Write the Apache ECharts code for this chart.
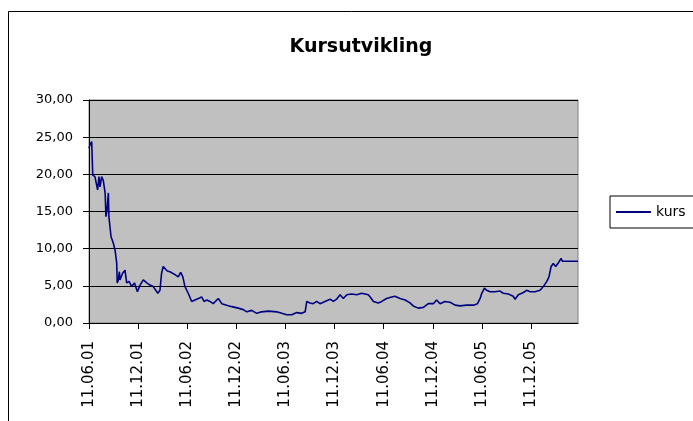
<!DOCTYPE html>
<html>
<head>
<meta charset="utf-8">
<script src="https://cdn.jsdelivr.net/npm/echarts@6/dist/echarts.min.js"></script>
<style>
html,body{margin:0;padding:0;background:#fff;}
#chart{width:693px;height:421px;}
</style>
</head>
<body>
<div id="chart"></div>
<script>
const startDate = '2001-06-11';
const endDate = '2006-06-04';
const tickLabels = ['11.06.01','11.12.01','11.06.02','11.12.02','11.06.03','11.12.03','11.06.04','11.12.04','11.06.05','11.12.05'];
const dates = [
'2001-06-11','2001-06-15','2001-06-21','2001-06-22','2001-06-25','2001-07-03','2001-07-10','2001-07-13','2001-07-18','2001-07-22',
'2001-07-28','2001-08-03','2001-08-10','2001-08-13','2001-08-17','2001-08-22','2001-08-24','2001-09-01','2001-09-09','2001-09-16',
'2001-09-22','2001-09-24','2001-09-28','2001-10-02','2001-10-04','2001-10-14','2001-10-23','2001-10-29','2001-11-07','2001-11-17',
'2001-11-27','2001-12-08','2001-12-18','2001-12-30','2002-01-12','2002-01-24','2002-02-05','2002-02-22','2002-03-02','2002-03-08',
'2002-03-14','2002-03-21','2002-03-29','2002-04-08','2002-04-27','2002-05-09','2002-05-18','2002-05-26','2002-06-03','2002-06-15',
'2002-06-28','2002-07-10','2002-07-23','2002-08-04','2002-08-13','2002-08-23','2002-09-04','2002-09-16','2002-10-05','2002-10-18',
'2002-11-05','2002-11-24','2002-12-18','2003-01-06','2003-01-19','2003-02-06','2003-02-25','2003-03-15','2003-04-09','2003-04-15',
'2003-05-10','2003-05-29','2003-06-16','2003-07-05','2003-07-24','2003-08-11','2003-08-24','2003-08-30','2003-09-11','2003-09-23',
'2003-10-06','2003-10-18','2003-11-06','2003-11-25','2003-12-07','2003-12-19','2004-01-01','2004-01-13','2004-01-26','2004-02-13',
'2004-03-03','2004-03-21','2004-04-15','2004-04-22','2004-05-04','2004-05-22','2004-06-04','2004-06-22','2004-07-11','2004-07-23',
'2004-08-11','2004-08-30','2004-09-17','2004-09-29','2004-10-18','2004-11-06','2004-11-24','2004-12-13','2004-12-25','2005-01-07',
'2005-01-25','2005-02-13','2005-03-04','2005-03-22','2005-04-16','2005-05-11','2005-05-26','2005-06-05','2005-06-11','2005-06-21',
'2005-06-29','2005-07-12','2005-07-30','2005-08-18','2005-08-30','2005-09-18','2005-10-06','2005-10-13','2005-10-25','2005-11-13',
'2005-11-25','2005-12-08','2005-12-26','2006-01-14','2006-01-26','2006-02-08','2006-02-16','2006-02-24','2006-03-04','2006-03-13',
'2006-03-23','2006-04-02','2006-04-07','2006-04-29','2006-06-04'
];
const kurs = [
23.5,24.0,24.4,24.2,19.9,19.7,19.5,17.9,19.7,18.3,
19.7,19.2,17.5,14.3,15.2,17.5,14.3,11.6,10.8,9.8,
8.1,5.4,5.8,6.9,5.8,6.7,7.1,5.4,5.6,4.9,
5.4,4.2,5.1,5.8,5.4,5.1,4.9,4.0,4.4,6.7,
7.6,7.8,7.0,6.9,6.5,6.2,6.8,6.2,4.9,4.0,
2.9,3.1,3.3,3.5,2.9,3.1,2.9,2.6,3.3,2.6,
2.4,2.2,2.0,1.8,1.5,1.7,1.3,1.5,1.6,1.4,
1.5,1.3,1.1,1.1,1.4,1.3,1.5,2.9,2.7,2.6,
2.9,2.6,2.9,3.2,2.9,3.2,3.8,3.3,3.8,3.9,
3.8,4.0,3.8,3.5,2.9,2.7,2.9,3.3,3.5,3.6,
3.3,3.1,2.7,2.3,2.0,2.1,2.6,2.6,3.1,2.6,
2.9,2.8,2.4,2.3,2.4,2.4,2.6,3.3,4.0,4.7,
4.4,4.2,4.2,4.3,4.0,3.9,3.6,3.2,3.8,4.1,
4.4,4.2,4.2,4.4,4.9,5.6,6.2,7.6,8.0,7.6,
8.1,8.7,8.3,8.3,8.3
];

function dayIndex(s){
  const p = s.split('-').map(Number);
  const q = startDate.split('-').map(Number);
  return Math.round((Date.UTC(p[0],p[1]-1,p[2]) - Date.UTC(q[0],q[1]-1,q[2]))/864e5);
}
const tickDays = tickLabels.map(l => { const p = l.split('.'); return dayIndex('20'+p[2]+'-'+p[1]+'-'+p[0]); });
const labelByDay = {};
tickDays.forEach((d,i)=>{ labelByDay[d] = tickLabels[i]; });
const seriesData = dates.map((d,i)=>[dayIndex(d), kurs[i]]);

const FONT = 'DejaVu Sans';
const chart = echarts.init(document.getElementById('chart'), null, {renderer:'canvas'});
chart.setOption({
  animation: false,
  backgroundColor: '#fff',
  title: {
    text: 'Kursutvikling',
    left: 356, top: 33, textAlign: 'center',
    textStyle: {fontFamily: FONT, fontSize: 19, fontWeight: 'bold', color: '#000'}
  },
  graphic: [{
    type: 'rect', silent: true,
    shape: {x: 8.5, y: 11.5, width: 800, height: 600},
    style: {fill: 'none', stroke: '#000', lineWidth: 1}
  }],
  legend: {
    data: [{name: 'kurs', icon: 'rect'}], left: 610, top: 196, orient: 'vertical',
    itemWidth: 35, itemHeight: 2, itemGap: 5,
    padding: [8, 20, 8, 6],
    borderColor: '#000', borderWidth: 1,
    itemStyle: {color: '#000080', borderWidth: 0},
    lineStyle: {width: 0},
    textStyle: {fontFamily: FONT, fontSize: 14, color: '#000', lineHeight: 16}
  },
  grid: {
    left: 89, right: 115, top: 100, bottom: 98,
    show: true, backgroundColor: '#C0C0C0', borderColor: '#808080', borderWidth: 1
  },
  xAxis: {
    type: 'value', min: 0, max: dayIndex(endDate),
    axisLine: {show: true, lineStyle: {color: '#000', width: 1}},
    axisTick: {show: true, customValues: tickDays, length: 6, lineStyle: {color: '#000', width: 1}},
    axisLabel: {
      customValues: tickDays, rotate: 90, margin: 18,
      fontFamily: FONT, fontSize: 15, color: '#000',
      formatter: v => labelByDay[Math.round(v)] || ''
    },
    splitLine: {show: false}
  },
  yAxis: {
    type: 'value', min: 0, max: 30, interval: 5,
    axisLine: {show: true, lineStyle: {color: '#000', width: 1}},
    axisTick: {show: true, length: 6, lineStyle: {color: '#000', width: 1}},
    axisLabel: {
      margin: 16, fontFamily: FONT, fontSize: 13, color: '#000',
      formatter: v => v.toFixed(2).replace('.', ',')
    },
    splitLine: {show: true, lineStyle: {color: '#000', width: 1}}
  },
  series: [{
    name: 'kurs', type: 'line', data: seriesData,
    symbol: 'none', color: '#000080',
    lineStyle: {color: '#000080', width: 1.6}
  }]
});
</script>
</body>
</html>
